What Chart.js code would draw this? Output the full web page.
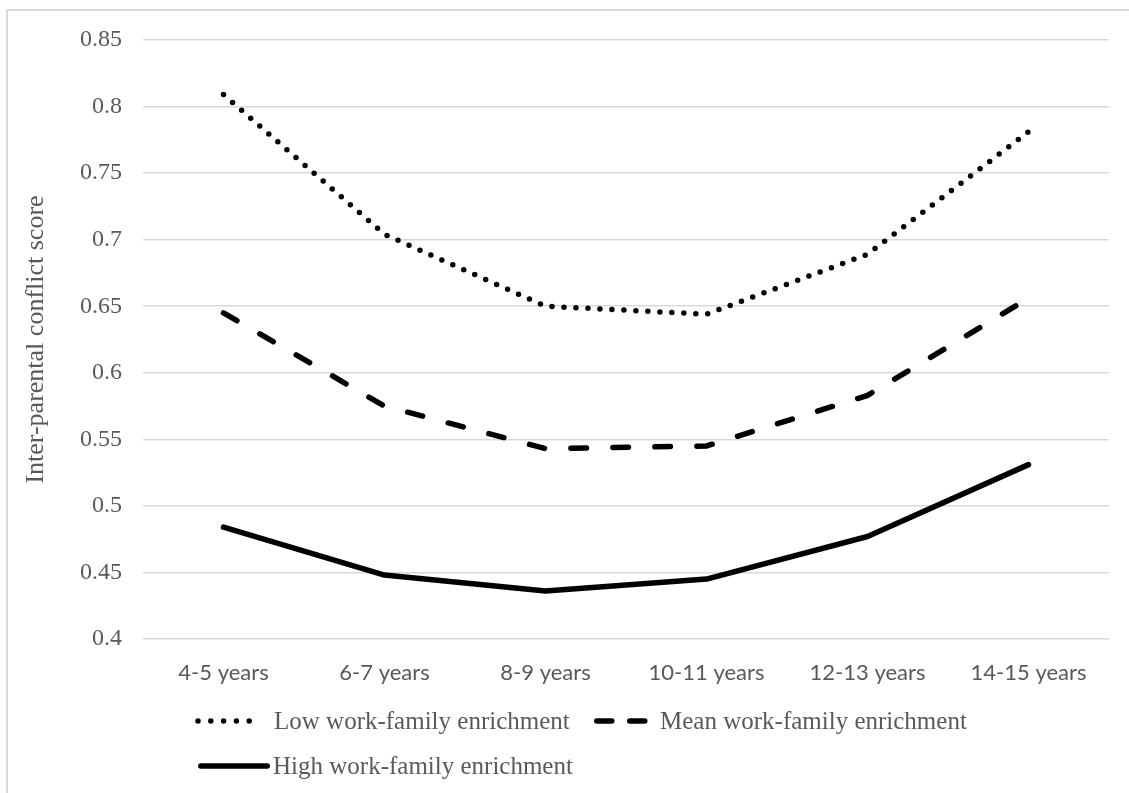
<!DOCTYPE html>
<html><head><meta charset="utf-8">
<script src="https://cdn.jsdelivr.net/npm/chart.js@4.4.1/dist/chart.umd.min.js"></script>
<style>
html,body{margin:0;padding:0;background:#fff;overflow:hidden;width:1129px;height:793px;}
#frame{position:absolute;left:6px;top:9px;width:1200px;height:900px;border:2px solid #d9d9d9;box-sizing:border-box;}
#wrap{position:absolute;left:0;top:0;width:1129px;height:793px;}
</style></head><body>
<div id="frame"></div>
<div id="wrap"><canvas id="c" width="1129" height="793"></canvas></div>
<script>
const categories = ["4-5 years", "6-7 years", "8-9 years", "10-11 years", "12-13 years", "14-15 years"];
const lowValues  = [0.809, 0.704, 0.650, 0.644, 0.689, 0.781];
const meanValues = [0.645, 0.575, 0.543, 0.545, 0.583, 0.656];
const highValues = [0.484, 0.448, 0.436, 0.445, 0.477, 0.531];
const seriesNames = ["Low work-family enrichment", "Mean work-family enrichment", "High work-family enrichment"];
const yTickValues = [0.4, 0.45, 0.5, 0.55, 0.6, 0.65, 0.7, 0.75, 0.8, 0.85];
const yTitle = "Inter-parental conflict score";

const LINE_W = 5.5;
const legendPlugin = {
  id: 'customLegend',
  afterDraw(chart) {
    const ctx = chart.ctx;
    const items = [
      {ds: 0, x0: 198, x1: 262, y: 721, gap: 12},
      {ds: 1, x0: 594, x1: 648, y: 721, gap: 12},
      {ds: 2, x0: 198, x1: 270, y: 766, gap: 3}
    ];
    const legendDash = [[0, 12.8], [15, 18], []];
    ctx.save();
    items.forEach((it, i) => {
      const ds = chart.data.datasets[it.ds];
      ctx.beginPath();
      ctx.strokeStyle = ds.borderColor;
      ctx.lineWidth = ds.borderWidth;
      ctx.lineCap = 'round';
      ctx.setLineDash(legendDash[i]);
      const inset = i === 0 ? 0 : LINE_W / 2;
      ctx.moveTo(it.x0 + inset, it.y);
      ctx.lineTo(it.x1 - inset, it.y);
      ctx.stroke();
      ctx.setLineDash([]);
      ctx.fillStyle = '#595959';
      ctx.font = "25px 'Liberation Serif'";
      ctx.textBaseline = 'middle';
      ctx.textAlign = 'left';
      ctx.fillText(ds.label, it.x1 + it.gap, it.y + 1);
    });
    ctx.restore();
  }
};

new Chart(document.getElementById('c'), {
  type: 'line',
  data: {
    labels: categories,
    datasets: [
      {label: seriesNames[0], data: lowValues, borderColor: '#000', borderWidth: LINE_W,
       borderDash: [0, 12], borderCapStyle: 'round', pointRadius: 0, tension: 0, fill: false},
      {label: seriesNames[1], data: meanValues, borderColor: '#000', borderWidth: LINE_W,
       borderDash: [15.5, 26.5], borderCapStyle: 'round', pointRadius: 0, tension: 0, fill: false},
      {label: seriesNames[2], data: highValues, borderColor: '#000', borderWidth: LINE_W,
       borderCapStyle: 'round', borderJoinStyle: 'round', pointRadius: 0, tension: 0, fill: false}
    ]
  },
  options: {
    responsive: false,
    animation: false,
    layout: {padding: {top: 40, right: 20, left: 0, bottom: 0}},
    plugins: {legend: {display: false}, tooltip: {enabled: false}},
    scales: {
      x: {
        offset: true,
        grid: {display: false, drawTicks: false},
        border: {display: false},
        ticks: {color: '#595959', font: {family: 'Lato', size: 22}, padding: 21, maxRotation: 0, autoSkip: false},
        afterFit(s) { s.height = 154; }
      },
      y: {
        min: 0.4, max: 0.85,
        afterBuildTicks(s) { s.ticks = yTickValues.map(v => ({value: v})); },
        grid: {color: '#d9d9d9', lineWidth: 1.6, drawTicks: false},
        border: {display: false},
        ticks: {color: '#595959', font: {family: 'Liberation Serif', size: 24}, padding: 21,
          callback: v => String(+Number(v).toFixed(2))},
        title: {display: true, text: yTitle, color: '#595959',
          font: {family: 'Liberation Serif', size: 26}, padding: {top: 21, bottom: 0}},
        afterFit(s) { s.width = 143; }
      }
    }
  },
  plugins: [legendPlugin]
});
</script>
</body></html>
